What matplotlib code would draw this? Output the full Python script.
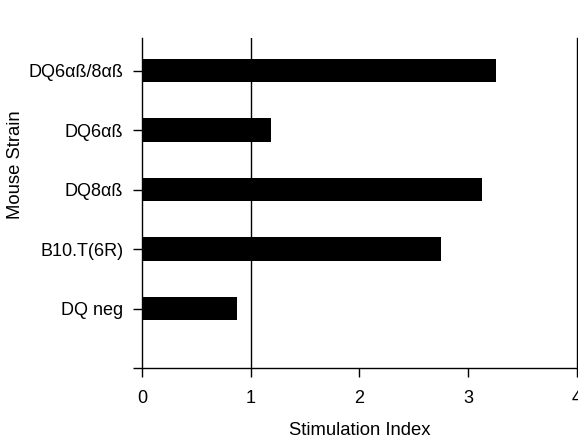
import matplotlib.pyplot as plt

plt.rcParams['font.family'] = ['Liberation Sans', 'DejaVu Sans']

# cepas de abajo hacia arriba
strains = ["DQ neg", "B10.T(6R)", "DQ8αß", "DQ6αß", "DQ6αß/8αß"]
stim_index = [0.87, 2.75, 3.13, 1.19, 3.26]
x_ticks = [0, 1, 2, 3, 4]

fig = plt.figure(figsize=(5.78, 4.45), dpi=100)
ax = fig.add_axes([0.2457, 0.173, 0.752, 0.742])

positions = list(range(1, len(strains) + 1))
ax.barh(positions, stim_index, height=0.39, color='black')
ax.axvline(1, color='black', linewidth=1.0)

ax.set_xlim(0, 4)
ax.set_ylim(0, 5.55)
ax.set_xticks(x_ticks)
ax.set_xticklabels([str(t) for t in x_ticks])
ax.set_yticks([0] + positions)
ax.set_yticklabels([""] + strains)

ax.spines['top'].set_visible(False)
for s in ['left', 'bottom', 'right']:
    ax.spines[s].set_linewidth(1.0)

ax.tick_params(axis='both', direction='out', length=6.5, width=1.0,
               labelsize=13, pad=7)
ax.tick_params(axis='x', pad=9)

ax.set_xlabel('Stimulation Index', fontsize=13.3)
ax.set_ylabel('Mouse Strain', fontsize=13.3)
ax.xaxis.set_label_coords(0.501, -0.163)
ax.yaxis.set_label_coords(-0.272, 0.615)

fig.savefig('out.png', dpi=100)
